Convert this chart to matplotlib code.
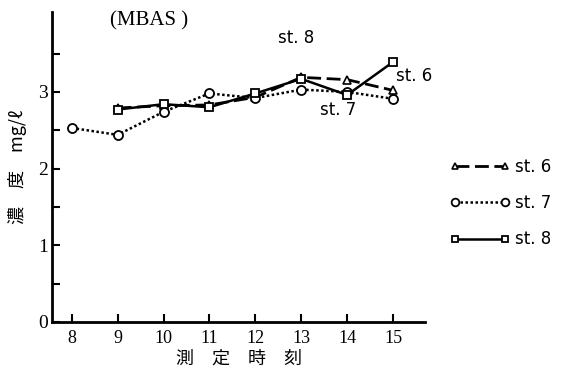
import numpy as np
import matplotlib
matplotlib.use('Agg')
import matplotlib.pyplot as plt

plt.rcParams['font.family'] = ['Liberation Serif', 'Noto Sans CJK JP', 'DejaVu Sans']

hours = [8, 9, 10, 11, 12, 13, 14, 15]

# st.6 and st.8 start at 9 o'clock
st6_hours = [9, 10, 11, 12, 13, 14, 15]
st6 = [2.79, 2.82, 2.83, 2.93, 3.19, 3.16, 3.02]

st7 = [2.53, 2.44, 2.74, 2.98, 2.92, 3.03, 3.00, 2.91]

st8_hours = [9, 10, 11, 12, 13, 14, 15]
st8 = [2.77, 2.84, 2.80, 2.98, 3.17, 2.96, 3.39]

fig = plt.figure(figsize=(5.68, 3.68), dpi=100)
ax = fig.add_axes([0.0915, 0.125, 0.657, 0.842])

ax.plot(st6_hours, st6, color='k', ls=(0, (5, 2)), lw=2.0, marker='^', ms=5.5,
        mfc='white', mec='k', mew=1.2, label='st. 6')
ax.plot(hours, st7, color='k', ls=(0, (1, 1)), lw=1.8, marker='o', ms=6.5,
        mfc='white', mec='k', mew=1.3, label='st. 7')
ax.plot(st8_hours, st8, color='k', ls='-', lw=1.8, marker='s', ms=5.5,
        mfc='white', mec='k', mew=1.3, label='st. 8')

ax.set_xlim(7.57, 15.7)
ax.set_ylim(0, 4.04)
ax.set_xticks(hours)
ax.set_yticks([0, 1, 2, 3])
ax.set_yticks([0.5, 1.5, 2.5, 3.5], minor=True)

for s in ['top', 'right']:
    ax.spines[s].set_visible(False)
for s in ['left', 'bottom']:
    ax.spines[s].set_linewidth(2)

ax.tick_params(axis='both', which='both', direction='in', width=1.5, labelsize=13)
ax.tick_params(axis='y', labelsize=14)
ax.tick_params(axis='both', which='major', length=6)
ax.tick_params(axis='y', which='minor', length=6)
ax.tick_params(axis='x', pad=6)
ax.tick_params(axis='y', pad=3)

ax.text(8.83, 3.92, '(MBAS )', fontsize=15, va='center')
ax.text(12.5, 3.70, 'st. 8', fontsize=12, family='DejaVu Sans', va='center')
ax.text(15.07, 3.21, 'st. 6', fontsize=12, family='DejaVu Sans', va='center')
ax.text(13.42, 2.76, 'st. 7', fontsize=12, family='DejaVu Sans', va='center')

ax.set_xlabel('測　定　時　刻', fontsize=13, family=['Noto Sans CJK JP'], labelpad=2)
ax.set_ylabel('濃　度　mg/ℓ', fontsize=13, family=['Noto Sans CJK JP', 'DejaVu Sans'], labelpad=8)

leg = ax.legend(loc='center left', bbox_to_anchor=(1.067, 0.384), frameon=False,
                numpoints=2, handlelength=3.6, handletextpad=0.3, labelspacing=1.1,
                borderpad=0, borderaxespad=0, markerscale=0.85,
                prop={'family': 'DejaVu Sans', 'size': 12})

fig.savefig('out.png', dpi=100)
